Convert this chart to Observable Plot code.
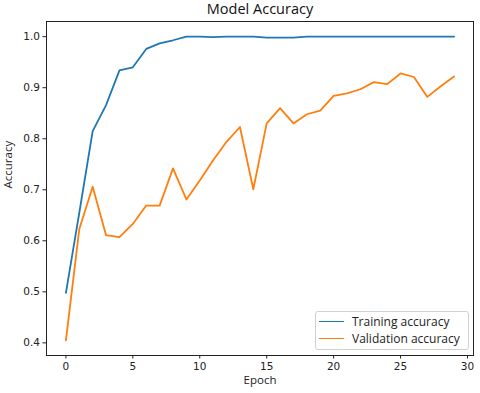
<!DOCTYPE html>
<html>
<head>
<meta charset="utf-8">
<script src="https://cdn.jsdelivr.net/npm/d3@7"></script>
<script src="https://cdn.jsdelivr.net/npm/@observablehq/plot@0.6"></script>
<style>
  html, body { margin: 0; padding: 0; background: #fff; }
  #wrap { position: relative; width: 480px; height: 393px; }
  #legend {
    position: absolute; left: 315px; top: 311px; width: 152px; height: 37px;
    border: 1px solid #d0d0d0; border-radius: 3px; background: rgba(255,255,255,0.8);
    font-family: "Open Sans", sans-serif; font-size: 12px; color: #222;
  }
  .item { position: absolute; left: 0; height: 16px; display: flex; align-items: center; }
  .swatch { width: 25px; height: 0; border-top: 1.8px solid; margin-left: 3px; margin-right: 8px; }
</style>
</head>
<body>
<div id="wrap"></div>
<script>
const epochs = d3.range(0, 30);
const trainingAccuracy = [0.498, 0.655, 0.815, 0.866, 0.934, 0.940, 0.976, 0.987, 0.993, 1.0,
  1.0, 0.999, 1.0, 1.0, 1.0, 0.998, 0.998, 0.998, 1.0, 1.0,
  1.0, 1.0, 1.0, 1.0, 1.0, 1.0, 1.0, 1.0, 1.0, 1.0];
const validationAccuracy = [0.405, 0.623, 0.706, 0.611, 0.607, 0.633, 0.669, 0.669, 0.742, 0.681,
  0.718, 0.758, 0.794, 0.823, 0.701, 0.830, 0.860, 0.830, 0.848, 0.855,
  0.884, 0.889, 0.897, 0.911, 0.907, 0.928, 0.921, 0.882, 0.903, 0.922];
const seriesNames = ["Training accuracy", "Validation accuracy"];
const seriesColors = ["#1f77b4", "#ff7f0e"];
const xTicks = [0, 5, 10, 15, 20, 25, 30];
const yTicks = [0.4, 0.5, 0.6, 0.7, 0.8, 0.9, 1.0];

const rows = [];
epochs.forEach((e, i) => {
  rows.push({epoch: e, acc: trainingAccuracy[i], series: seriesNames[0]});
  rows.push({epoch: e, acc: validationAccuracy[i], series: seriesNames[1]});
});

const xPad = (d3.max(epochs) - d3.min(epochs)) * 0.05;
const yAll = trainingAccuracy.concat(validationAccuracy);
const yPad = (d3.max(yAll) - d3.min(yAll)) * 0.05;

const chart = Plot.plot({
  width: 480,
  height: 393,
  marginLeft: 46,
  marginRight: 7,
  marginTop: 21,
  marginBottom: 38,
  style: {fontFamily: "DejaVu Sans, sans-serif", fontSize: "10px", color: "#222", background: "#fff"},
  x: {domain: [d3.min(epochs) - xPad, d3.max(epochs) + xPad], ticks: xTicks, tickFormat: d3.format("d"), label: null, tickSize: 3.5, tickPadding: 3},
  y: {domain: [d3.min(yAll) - yPad, d3.max(yAll) + yPad], ticks: yTicks, tickFormat: d3.format(".1f"), label: null, tickSize: 3.5, tickPadding: 3},
  color: {domain: seriesNames, range: seriesColors},
  marks: [
    Plot.axisX({ticks: xTicks, tickFormat: d3.format("d"), tickSize: 3.5, tickPadding: 4, fontSize: 10.5, label: null}),
    Plot.axisY({ticks: yTicks, tickFormat: d3.format(".1f"), tickSize: 3.5, tickPadding: 3, fontSize: 10.5, label: null}),
    Plot.line(rows, {x: "epoch", y: "acc", z: "series", stroke: "series", strokeWidth: 1.8}),
    Plot.frame({stroke: "#222", strokeWidth: 1}),
    Plot.text(["Model Accuracy"], {frameAnchor: "top", dy: -12, lineAnchor: "middle", fontSize: 14.5, fontFamily: "Open Sans", fill: "#111"}),
    Plot.text(["Epoch"], {frameAnchor: "bottom", dy: 28, fontSize: 11.5, fontFamily: "Open Sans", fill: "#222"}),
    Plot.text(["Accuracy"], {frameAnchor: "left", dx: -38, rotate: -90, fontSize: 11.5, fontFamily: "Open Sans", fill: "#222"})
  ]
});
document.getElementById("wrap").appendChild(chart);

const legend = document.createElement("div");
legend.id = "legend";
seriesNames.forEach((name, i) => {
  const item = document.createElement("div");
  item.className = "item";
  item.style.top = (1 + i * 17) + "px";
  const sw = document.createElement("span");
  sw.className = "swatch";
  sw.style.borderColor = seriesColors[i];
  const lab = document.createElement("span");
  lab.textContent = name;
  item.appendChild(sw);
  item.appendChild(lab);
  legend.appendChild(item);
});
document.getElementById("wrap").appendChild(legend);
</script>
</body>
</html>
